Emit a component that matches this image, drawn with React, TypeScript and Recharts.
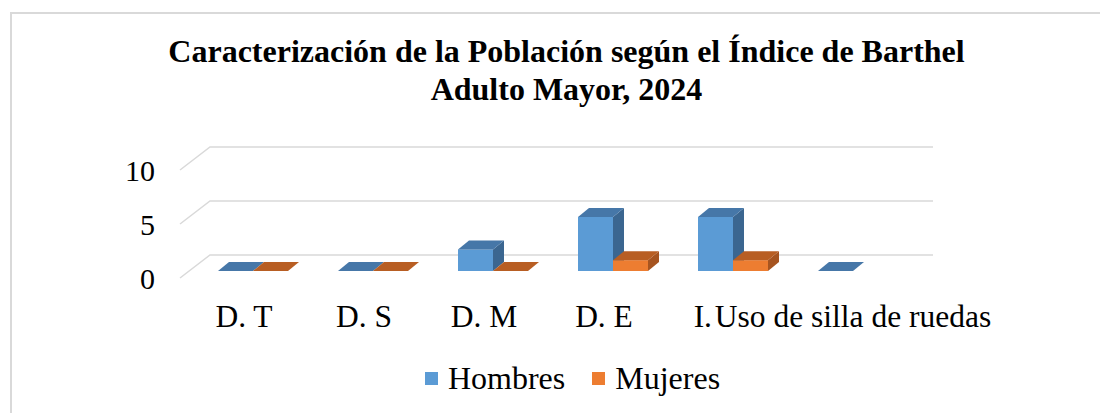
import React from 'react'
import { BarChart, Bar, XAxis, YAxis, CartesianGrid, Legend } from 'recharts';

const categories = ['D. T', 'D. S', 'D. M', 'D. E', 'I.', 'Uso de silla de ruedas'];
const hombres = [0, 0, 2, 5, 5, 0];
const mujeres: (number | null)[] = [0, 0, 0, 1, 1, null];
const yTicks = [0, 5, 10];

const data = categories.map((c, i) => ({ cat: c, hombres: hombres[i], mujeres: mujeres[i] }));

const FONT = '"Liberation Serif", "Times New Roman", serif';
const DX = 11;
const DY = -9;

const blue = { front: '#5B9BD5', top: '#4677A8', side: '#3B6690' };
const orange = { front: '#ED7D31', top: '#B85E23', side: '#A65420' };

// column with a top and a side face, a la Excel 3D
const Column3D = (props: any) => {
    const { x, y, width, height, value, colors } = props;
    if (value == null || x == null) return <g />;
    const h = Math.max(height || 0, 0);
    const yb = y + h;
    const topPts = `${x},${y} ${x + DX},${y + DY} ${x + width + DX},${y + DY} ${x + width},${y}`;
    const sidePts = `${x + width},${y} ${x + width + DX},${y + DY} ${x + width + DX},${yb + DY} ${x + width},${yb}`;
    return (
        <g>
            {h > 0 && <rect x={x} y={y} width={width} height={h} fill={colors.front} />}
            {h > 0 && <polygon points={sidePts} fill={colors.side} />}
            <polygon points={topPts} fill={colors.top} />
        </g>
    );
};

const gridLine = (p: any) => {
    const { x1, x2, y1, key } = p;
    const d = `M${x1 - 13},${y1 + 7} L${x1 + 17},${y1 - 16} L${x2 + 20},${y1 - 16}`;
    return <path key={key} d={d} fill="none" stroke="#d9d9d9" strokeWidth={1.5} />;
};

const YTick = (p: any) => {
    const { y, payload } = p;
    return (
        <text x={147} y={y + 7} dy="0.35em" textAnchor="end" fontFamily={FONT} fontSize={30} fill="#000">
            {payload.value}
        </text>
    );
};

const XTick = (p: any) => {
    const { x, payload, index } = p;
    let anchor: 'middle' | 'end' = 'middle';
    let tx = x - 9;
    if (index === 4) { anchor = 'end'; tx = x - 21; }
    if (index === 5) { tx = x; }
    return (
        <text x={tx} y={319} textAnchor={anchor} fontFamily={FONT} fontSize={31.5} fill="#000">
            {payload.value}
        </text>
    );
};

const LegendContent = () => {
    const items = [
        { label: 'Hombres', color: blue.front },
        { label: 'Mujeres', color: orange.front },
    ];
    return (
        <div style={{ display: 'flex', justifyContent: 'center', alignItems: 'center', paddingLeft: 29, fontFamily: FONT, fontSize: 32, lineHeight: '32px' }}>
            {items.map((it, i) => (
                <div key={it.label} style={{ display: 'flex', alignItems: 'center', marginLeft: i ? 27 : 0 }}>
                    <span style={{ display: 'inline-block', width: 13, height: 13, background: it.color, marginRight: 10 }} />
                    <span>{it.label}</span>
                </div>
            ))}
        </div>
    );
};

const App: React.FC = () => {
    return (
        <div style={{ position: 'relative', width: 1100, height: 405, overflow: 'hidden', background: '#fff' }}>
            <div style={{ position: 'absolute', left: 2, top: 4, width: 1300, height: 700, border: '2px solid #d9d9d9', boxSizing: 'border-box' }} />
            <div style={{ position: 'absolute', left: 0, top: 24, width: 1100, paddingLeft: 17, boxSizing: 'border-box', textAlign: 'center', fontFamily: FONT, fontWeight: 'bold', fontSize: 32, lineHeight: '38px' }}>
                <div>Caracterización de la Población según el Índice de Barthel</div>
                <div>Adulto Mayor, 2024</div>
            </div>
            <div style={{ position: 'absolute', left: 0, top: 0 }}>
                <BarChart width={1100} height={405} data={data} barCategoryGap={25} barGap={0}
                    margin={{ top: 155, right: 195, bottom: 42, left: 125 }}>
                    <CartesianGrid vertical={false} horizontal={gridLine} />
                    <XAxis dataKey="cat" axisLine={false} tickLine={false} interval={0} height={60} tick={<XTick />} />
                    <YAxis domain={[0, 10]} ticks={yTicks} axisLine={false} tickLine={false} width={60} tick={<YTick />} />
                    <Legend height={40} content={<LegendContent />} wrapperStyle={{ top: 354, left: 0, width: 1100 }} />
                    <Bar dataKey="hombres" name="Hombres" fill={blue.front} isAnimationActive={false}
                        shape={(p: any) => <Column3D {...p} value={p.payload.hombres} colors={blue} />} />
                    <Bar dataKey="mujeres" name="Mujeres" fill={orange.front} isAnimationActive={false}
                        shape={(p: any) => <Column3D {...p} value={p.payload.mujeres} colors={orange} />} />
                </BarChart>
            </div>
        </div>
    )
}

export default App
